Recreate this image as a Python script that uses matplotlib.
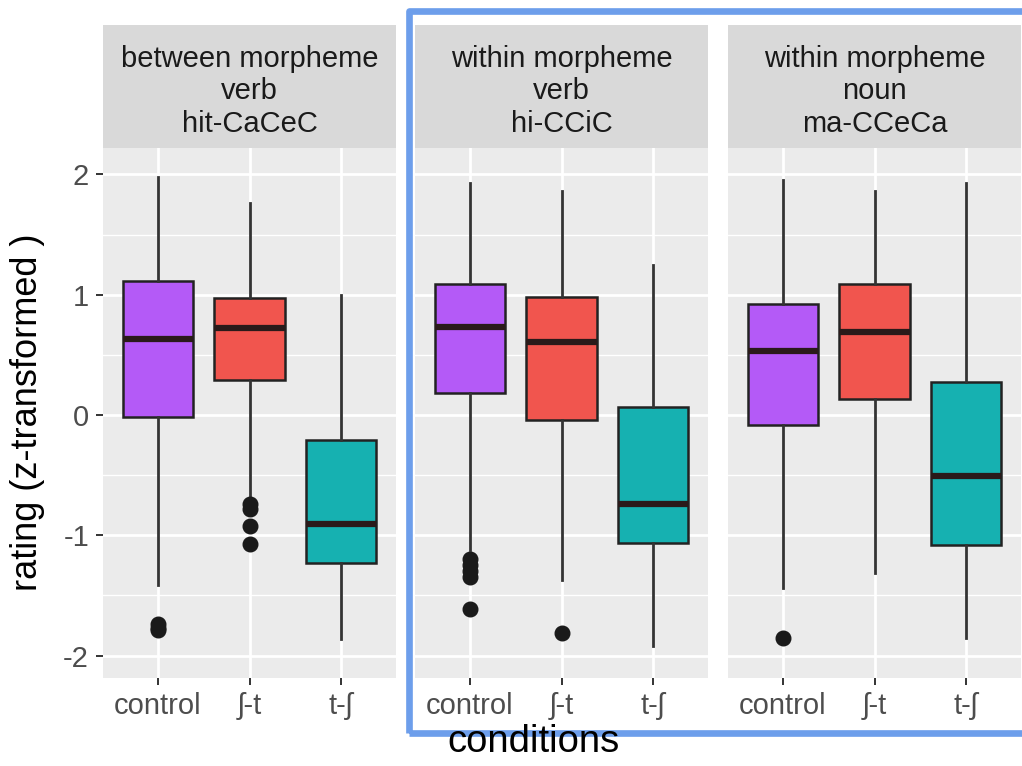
import matplotlib.pyplot as plt
from matplotlib.patches import Rectangle

plt.rcParams['font.family'] = ['Liberation Sans', 'DejaVu Sans']

panel_titles = ['between morpheme\nverb\nhit-CaCeC',
                'within morpheme\nverb\nhi-CCiC',
                'within morpheme\nnoun\nma-CCeCa']
conditions = ['control', 'ʃ-t', 't-ʃ']
fills = ['#b45af7', '#f1554e', '#16b1b1']

# five-number summaries per panel, one entry per condition
whis_lo = [[-1.41, -0.68, -1.86],
           [-1.12, -1.37, -1.92],
           [-1.44, -1.31, -1.85]]
q1 = [[-0.02, 0.29, -1.23],
      [0.18, -0.04, -1.06],
      [-0.08, 0.13, -1.08]]
medians = [[0.63, 0.72, -0.91],
           [0.73, 0.61, -0.74],
           [0.53, 0.69, -0.51]]
q3 = [[1.11, 0.97, -0.21],
      [1.09, 0.98, 0.07],
      [0.92, 1.09, 0.27]]
whis_hi = [[1.98, 1.76, 1.00],
           [1.93, 1.86, 1.25],
           [1.95, 1.86, 1.93]]
outliers = [[[-1.74, -1.77, -1.79], [-0.74, -0.78, -0.92, -1.07], []],
            [[-1.20, -1.25, -1.30, -1.35, -1.61], [-1.81], []],
            [[-1.85], [], []]]

W, H = 1022, 766
fig = plt.figure(figsize=(W / 100, H / 100), dpi=100)

lefts = [103, 415, 728]
pw = 293
top, bottom, strip_top = 148, 678, 25

for p in range(3):
    ax = fig.add_axes([lefts[p] / W, 1 - bottom / H, pw / W, (bottom - top) / H])
    ax.set_facecolor('#ebebeb')
    for s in ax.spines.values():
        s.set_visible(False)

    stats = []
    for c in range(3):
        stats.append(dict(whislo=whis_lo[p][c], q1=q1[p][c], med=medians[p][c],
                          q3=q3[p][c], whishi=whis_hi[p][c], fliers=outliers[p][c]))
    bp = ax.bxp(stats, positions=[1, 2, 3], widths=0.77, patch_artist=True,
                showcaps=False,
                boxprops=dict(edgecolor='#222222', linewidth=1.8),
                medianprops=dict(color='#2a1a1a', linewidth=4.5),
                whiskerprops=dict(color='#333333', linewidth=2),
                flierprops=dict(marker='o', markersize=10.5, markerfacecolor='#1a1a1a',
                                markeredgecolor='#1a1a1a'),
                zorder=3)
    for patch, col in zip(bp['boxes'], fills):
        patch.set_facecolor(col)

    ax.set_xlim(0.4, 3.6)
    ax.set_ylim(-2.186, 2.219)
    ax.set_yticks([-2, -1, 0, 1, 2])
    ax.set_yticks([-1.5, -0.5, 0.5, 1.5], minor=True)
    ax.set_xticks([1, 2, 3])
    ax.set_xticklabels(conditions)
    ax.grid(which='major', color='white', linewidth=2)
    ax.grid(which='minor', axis='y', color='white', linewidth=1)
    ax.set_axisbelow(True)
    ax.tick_params(axis='both', which='major', length=5, width=1.4, color='#333333',
                   labelcolor='#4d4d4d', labelsize=21, pad=5)
    ax.tick_params(axis='y', which='minor', length=0)
    if p > 0:
        ax.tick_params(axis='y', which='major', left=False, labelleft=False)
    else:
        ax.set_yticklabels(['-2', '-1', '0', '1', '2'])

    # facet strip
    sx = fig.add_axes([lefts[p] / W, 1 - top / H, pw / W, (top - strip_top) / H])
    sx.set_facecolor('#d9d9d9')
    sx.set_xticks([])
    sx.set_yticks([])
    for s in sx.spines.values():
        s.set_visible(False)
    sx.text(0.5, 0.46, panel_titles[p], ha='center', va='center', fontsize=21,
            color='#1a1a1a', linespacing=1.22, transform=sx.transAxes)

fig.text(28 / W, 1 - 412 / H, 'rating (z-transformed )', rotation=90,
         ha='center', va='center', fontsize=26, color='black')
fig.text(533 / W, 1 - 742 / H, 'conditions', ha='center', va='center',
         fontsize=27.5, color='black')

# highlight frame around the within-morpheme panels
frame = Rectangle((409 / W, 1 - 733 / H), 1.02 - 409 / W, (733 - 11) / H,
                  transform=fig.transFigure, fill=False, edgecolor='#6d9eeb',
                  linewidth=4.8, joinstyle='round', clip_on=False)
fig.patches.append(frame)

fig.savefig('out.png', dpi=100)
